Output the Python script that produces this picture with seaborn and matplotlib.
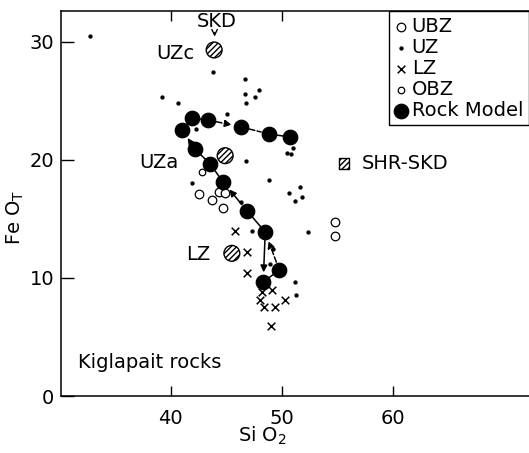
import pandas as pd
import matplotlib
matplotlib.use("Agg")
import matplotlib.pyplot as plt
import seaborn as sns

# ============================
# DADOS
# ============================
# UZ - pontos pequenos
uz_sio2 = [32.76, 43.8, 46.7, 47.9, 46.64, 47.6, 46.76, 39.26, 40.7, 45.1,
           42.29, 50.45, 50.84, 51.04, 46.76, 41.9, 48.8, 51.65, 50.68, 51.2,
           51.8, 46.34, 47.3, 52.3, 49.24, 48.95, 51.2, 51.26]
uz_feo = [30.48, 27.46, 26.84, 25.91, 25.55, 25.29, 24.78, 25.29, 24.83, 23.88,
          22.58, 20.55, 20.49, 21.02, 19.9, 18.01, 18.29, 17.72, 17.16, 16.51,
          16.82, 16.45, 13.97, 13.89, 12.45, 11.15, 9.68, 8.53]

# LZ - cruzes
lz_sio2 = [45.8, 46.85, 46.85, 48.2, 49.1, 47.99, 48.35, 49.4, 50.3, 49.04]
lz_feo = [14.0, 12.22, 10.44, 8.83, 8.98, 8.13, 7.51, 7.51, 8.13, 5.93]

# UBZ - círculos abertos
ubz_sio2 = [42.59, 43.7, 44.39, 44.9, 44.69, 54.79, 54.79]
ubz_feo = [17.08, 16.6, 17.3, 17.16, 15.94, 14.76, 13.55]

# OBZ - círculo aberto pequeno
obz_sio2 = [42.8]
obz_feo = [18.99]

# Rock Model (ordem do caminho)
rock_sio2 = [49.76, 48.5, 46.88, 44.72, 43.55, 42.2, 41.03, 41.93, 43.37,
             46.34, 48.86, 50.75, 48.32]
rock_feo = [10.67, 13.89, 15.66, 18.12, 19.64, 20.91, 22.52, 23.54, 23.37,
            22.78, 22.18, 21.93, 9.65]

# círculos hachurados (SKD / UZa / LZ) e quadrado SHR-SKD
hatch_lbl = ["UZc", "UZa", "LZ"]
hatch_sio2 = [43.91, 44.9, 45.5]
hatch_feo = [29.3, 20.35, 12.08]
shr_sio2 = [55.58]
shr_feo = [19.7]

# ============================
# FIGURA
# ============================
sns.set_style("ticks")
plt.rcParams["font.family"] = ["DejaVu Sans"]
plt.rcParams["hatch.linewidth"] = 1.0
for k in ["text.color", "axes.labelcolor", "xtick.color", "ytick.color"]:
    plt.rcParams[k] = "k"
FS = 14

fig = plt.figure(figsize=(5.29, 4.53), dpi=100)
ax = fig.add_axes([61 / 529, 57 / 453, 468 / 529, 385 / 453])

rock = pd.DataFrame({"x": rock_sio2, "y": rock_feo})

# segmentos sólidos do caminho
solid_segs = [[1, 2], [3, 4, 5], [6, 7, 8], [10, 11], [12, 0]]
for seg in solid_segs:
    sns.lineplot(x=rock["x"].iloc[seg], y=rock["y"].iloc[seg], sort=False,
                 estimator=None, color="k", lw=1.1, ax=ax, legend=False)

# setas
arrows = [(2, 3, "-"), (5, 6, "-"), (1, 12, "-"), (0, 1, "--"), (8, 9, "--")]
for a, b, ls in arrows:
    ax.annotate("", xy=(rock_sio2[b], rock_feo[b]),
                xytext=(rock_sio2[a], rock_feo[a]),
                arrowprops=dict(arrowstyle="-|>", color="k", lw=1.1, ls=ls,
                                shrinkA=6, shrinkB=7, mutation_scale=10))
ax.annotate("", xy=(rock_sio2[10], rock_feo[10]),
            xytext=(rock_sio2[9], rock_feo[9]),
            arrowprops=dict(arrowstyle="-", color="k", lw=1.1, ls="--",
                            shrinkA=6, shrinkB=6))

sns.scatterplot(x=ubz_sio2, y=ubz_feo, marker="o", s=38, facecolor="white",
                edgecolor="k", linewidth=0.9, ax=ax, label="UBZ", zorder=3)
sns.scatterplot(x=uz_sio2, y=uz_feo, marker="o", s=8, color="k",
                edgecolor="k", ax=ax, label="UZ", zorder=3)
sns.scatterplot(x=lz_sio2, y=lz_feo, marker="x", s=30, color="k",
                linewidth=1.1, ax=ax, label="LZ", zorder=3)
sns.scatterplot(x=obz_sio2, y=obz_feo, marker="o", s=22, facecolor="white",
                edgecolor="k", linewidth=0.9, ax=ax, label="OBZ", zorder=3)
sns.scatterplot(x=rock_sio2, y=rock_feo, marker="o", s=110, color="k",
                edgecolor="k", ax=ax, label="Rock Model", zorder=4)

sns.scatterplot(x=hatch_sio2, y=hatch_feo, marker="o", s=130,
                facecolor="white", edgecolor="k", linewidth=1.0,
                hatch="//////", ax=ax, legend=False, zorder=4)
sns.scatterplot(x=shr_sio2, y=shr_feo, marker="s", s=60, facecolor="white",
                edgecolor="k", linewidth=1.0, hatch="//////", ax=ax,
                legend=False, zorder=4)

# textos
ax.text(44.1, 31.75, "SKD", fontsize=FS, ha="center", va="center")
ax.annotate("", xy=(43.95, 30.2), xytext=(43.95, 31.0),
            arrowprops=dict(arrowstyle="->", color="k", lw=1.0))
ax.text(40.4, 29.0, "UZc", fontsize=FS, ha="center", va="center")
ax.text(38.9, 19.8, "UZa", fontsize=FS, ha="center", va="center")
ax.text(42.45, 11.95, "LZ", fontsize=FS, ha="center", va="center")
ax.text(57.2, 19.7, "SHR-SKD", fontsize=FS, ha="left", va="center")
ax.text(31.7, 2.8, "Kiglapait rocks", fontsize=FS, ha="left", va="center")

# eixos
ax.set_xlim(30.15, 72.2)
ax.set_ylim(0, 32.6)
ax.set_xticks([40, 50, 60])
ax.set_yticks([0, 10, 20, 30])
ax.tick_params(axis="x", direction="in", length=7, width=1.0, top=True,
               labelsize=FS, pad=9)
ax.tick_params(axis="y", direction="in", length=9, width=1.0,
               labelsize=FS, pad=5)
for s in ["left", "bottom", "top"]:
    ax.spines[s].set_linewidth(1.1)
    ax.spines[s].set_color("k")
ax.spines["right"].set_visible(False)

ax.set_xlabel("Si O$_2$", fontsize=FS)
ax.set_ylabel("Fe O$_\\mathrm{T}$", fontsize=FS)
ax.xaxis.set_label_coords(0.43, -0.075)
ax.yaxis.set_label_coords(-0.075, 0.465)

h, l = ax.get_legend_handles_labels()
order = ["UBZ", "UZ", "LZ", "OBZ", "Rock Model"]
hh = [h[l.index(o)] for o in order]
leg = ax.legend(hh, order, loc="upper right", bbox_to_anchor=(1.0, 1.0),
                borderaxespad=0, frameon=True, fancybox=False,
                edgecolor="k", fontsize=FS, handlelength=0.6,
                handletextpad=0.25, labelspacing=0.1, borderpad=0.3)
leg.get_frame().set_linewidth(1.0)
leg.get_frame().set_alpha(1)

fig.savefig("out.png", dpi=100)
